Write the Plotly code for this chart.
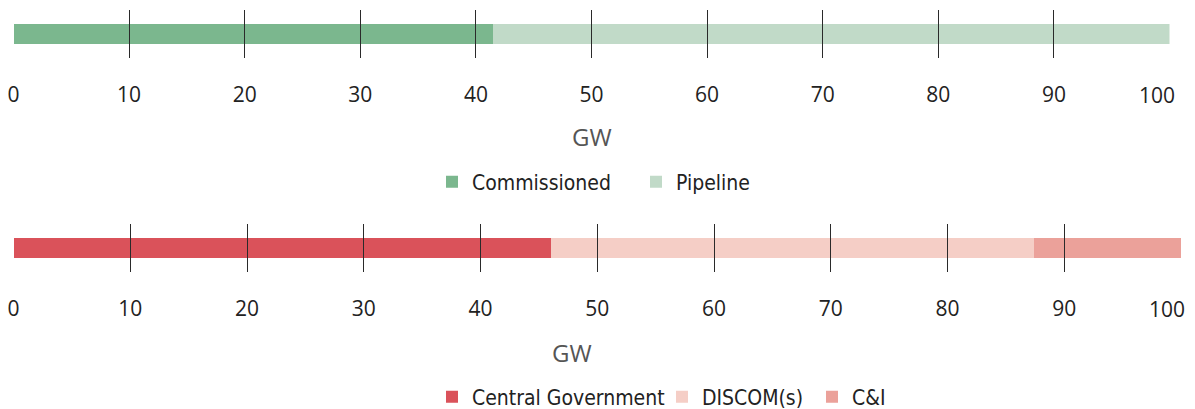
import plotly.graph_objects as go

# Top chart: capacity status (GW)
status_names = ["Commissioned", "Pipeline"]
status_values = [41.5, 58.5]
status_colors = ["#7BB78E", "#C1DAC8"]

# Bottom chart: offtaker split (GW)
offtaker_names = ["Central Government", "DISCOM(s)", "C&I"]
offtaker_values = [46.0, 41.4, 12.6]
offtaker_colors = ["#DA525A", "#F5CEC6", "#EBA19A"]

tick_vals = [0, 10, 20, 30, 40, 50, 60, 70, 80, 90, 100]
tick_text = [str(v) for v in tick_vals]
axis_title = "GW"

W, H = 1195, 409
OFF = 8  # page body margin shifts the figure by 8px
TICK_FONT = dict(family="Open Sans, Liberation Sans, sans-serif", size=21, color="#222222")
LEGEND_FONT = dict(family="Liberation Sans Narrow, DejaVu Sans Condensed, sans-serif", size=21, color="#222222")

# legend item left edges (px) for each series
top_leg_x = [448, 652]
bot_leg_x = [448, 678, 828]


def px_x(p):
    return (p - OFF) / W


def px_y(p):
    return (H - (p - OFF)) / H


fig = go.Figure()

for i, (name, val, col) in enumerate(zip(status_names, status_values, status_colors)):
    fig.add_trace(go.Bar(
        x=[val], y=[0], name=name, orientation="h", width=0.4,
        marker=dict(color=col, line=dict(width=0)),
        xaxis="x", yaxis="y", legend="legend" if i == 0 else f"legend{i + 1}",
        hovertemplate=name + ": %{x} GW<extra></extra>",
    ))

for i, (name, val, col) in enumerate(zip(offtaker_names, offtaker_values, offtaker_colors)):
    fig.add_trace(go.Bar(
        x=[val], y=[0], name=name, orientation="h", width=0.4,
        marker=dict(color=col, line=dict(width=0)),
        xaxis="x2", yaxis="y2", legend=f"legend{i + 3}",
        hovertemplate=name + ": %{x} GW<extra></extra>",
    ))


def xaxis_cfg(x0, x1, anchor):
    # last label is drawn separately so it can sit inside the right edge
    txt = tick_text[:-1] + [""]
    return dict(
        domain=[px_x(x0), px_x(x1)], anchor=anchor, automargin=False,
        range=[0, 100], tickvals=tick_vals, ticktext=txt, showgrid=False, zeroline=False,
        showline=False, ticks="inside", ticklen=48, tickwidth=1, tickcolor="#2a2a2a",
        layer="above traces", tickfont=TICK_FONT, ticklabelstandoff=22,
        ticklabeloverflow="allow", fixedrange=True,
    )


def yaxis_cfg(top_px, bot_px, anchor):
    return dict(domain=[px_y(bot_px), px_y(top_px)], anchor=anchor, range=[-0.5, 0.5],
                visible=False, fixedrange=True, automargin=False)


def legend_cfg(x_px, y_px):
    return dict(orientation="h", x=px_x(x_px - 16), xanchor="left", y=px_y(y_px),
                yanchor="middle", font=LEGEND_FONT, itemclick=False, itemdoubleclick=False,
                bgcolor="rgba(0,0,0,0)")


legends = {}
for i, xp in enumerate(top_leg_x):
    legends["legend" if i == 0 else f"legend{i + 1}"] = legend_cfg(xp, 182)
for i, xp in enumerate(bot_leg_x):
    legends[f"legend{i + 3}"] = legend_cfg(xp, 397)

title_font = dict(family="Open Sans, sans-serif", size=24, color="#555555")

fig.update_layout(
    width=W, height=H,
    margin=dict(l=0, r=0, t=0, b=0, autoexpand=False),
    paper_bgcolor="white", plot_bgcolor="white",
    barmode="stack", showlegend=True,
    xaxis=xaxis_cfg(13.5, 1169.5, "y"),
    yaxis=yaxis_cfg(10, 58, "x"),
    xaxis2=xaxis_cfg(13.5, 1181, "y2"),
    yaxis2=yaxis_cfg(224, 272, "x2"),
    annotations=[
        dict(text=axis_title, x=px_x(592), y=px_y(136), xref="paper", yref="paper",
             xanchor="center", yanchor="middle", showarrow=False, font=title_font),
        dict(text=axis_title, x=px_x(572), y=px_y(352), xref="paper", yref="paper",
             xanchor="center", yanchor="middle", showarrow=False, font=title_font),
        dict(text=tick_text[-1], x=tick_vals[-1], xref="x", y=px_y(95), yref="paper",
             xanchor="center", yanchor="middle", xshift=-12.5, showarrow=False, font=TICK_FONT),
        dict(text=tick_text[-1], x=tick_vals[-1], xref="x2", y=px_y(309), yref="paper",
             xanchor="center", yanchor="middle", xshift=-14, showarrow=False, font=TICK_FONT),
    ],
    **legends,
)

fig.write_html("out.html")
